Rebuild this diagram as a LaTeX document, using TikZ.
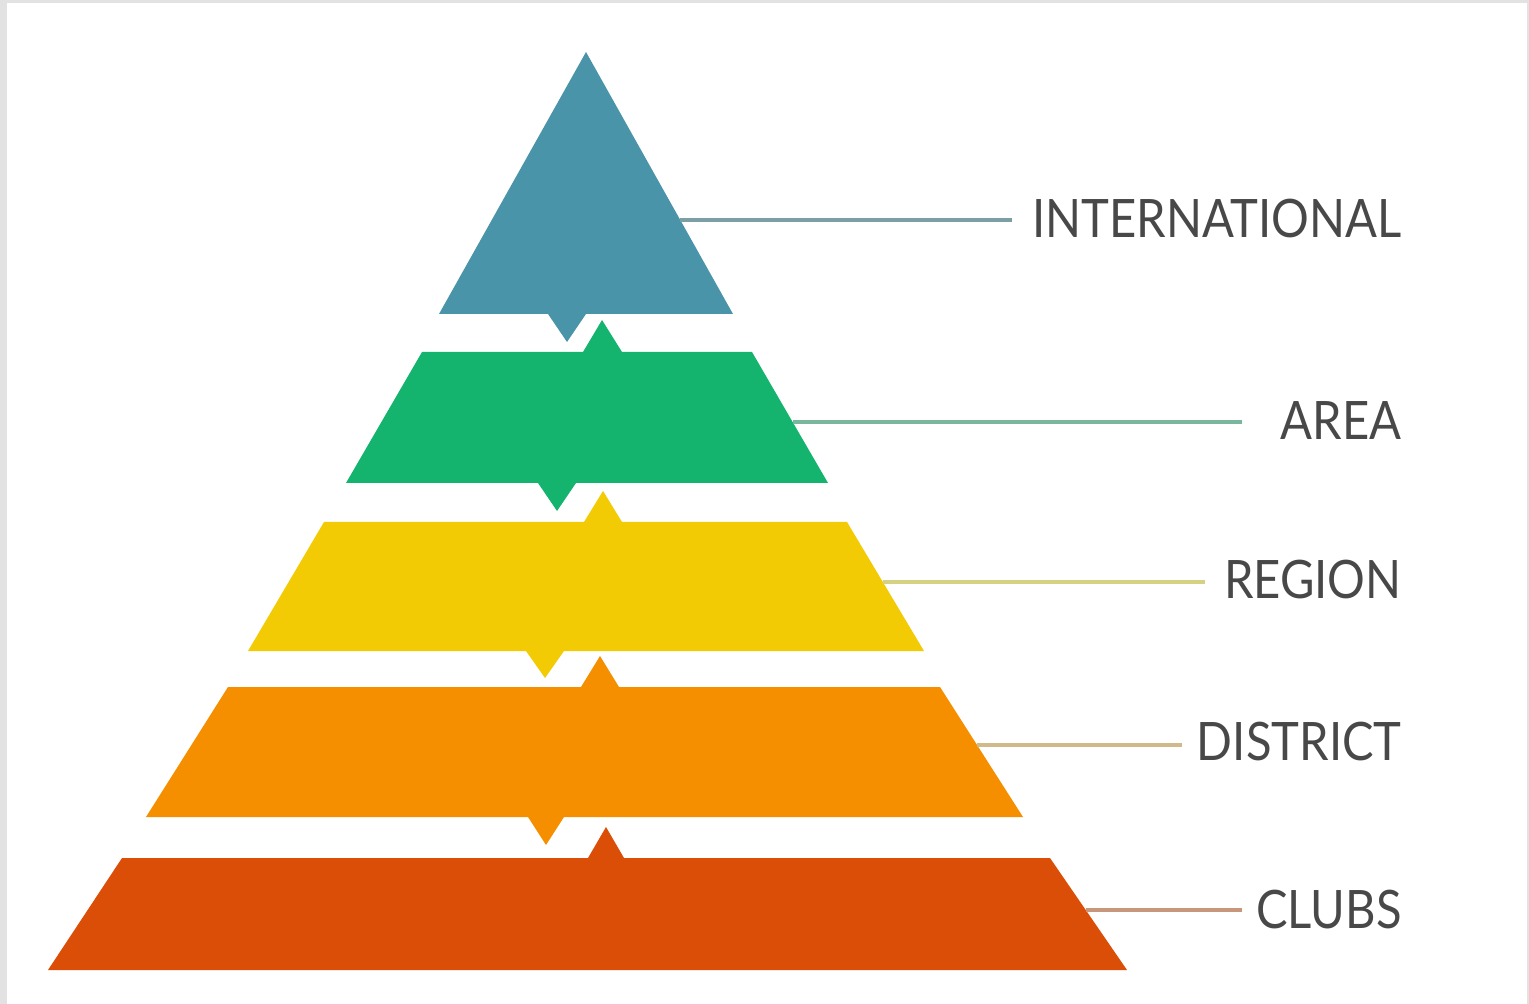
\documentclass[tikz,border=0pt]{standalone}
\usepackage{fontspec}
\setmainfont{Lato}
\newfontfamily\lblfont[FakeStretch=0.89]{Lato}
\definecolor{cBlue}{RGB}{74,148,170}
\definecolor{cGreen}{RGB}{20,180,110}
\definecolor{cYellow}{RGB}{242,203,5}
\definecolor{cOrange}{RGB}{245,143,0}
\definecolor{cRed}{RGB}{219,78,8}
\definecolor{lBlue}{RGB}{122,160,165}
\definecolor{lGreen}{RGB}{120,182,158}
\definecolor{lYellow}{RGB}{214,208,130}
\definecolor{lOrange}{RGB}{208,186,140}
\definecolor{lRed}{RGB}{200,150,122}
\definecolor{txt}{RGB}{72,72,72}
\definecolor{frame}{RGB}{226,226,226}
\tikzset{
  layer/.style={draw=none},
  link/.style={line width=2pt},
  lbl/.style={anchor=base east, inner sep=0pt, text=txt, font=\lblfont\fontsize{26.5}{30}\selectfont}
}
\begin{document}
\begin{tikzpicture}[x=0.5pt,y=-0.5pt]
\useasboundingbox (0,0) rectangle (1529,1004);
\fill[frame] (0,0) rectangle (1529,1004);
\fill[white] (7,3) rectangle (1527,1004);
% layers
\fill[cBlue,layer] (439,314) -- (548,314) -- (567,342) -- (586,314) -- (733,314) -- (586,52) -- cycle;
\fill[cGreen,layer] (346,483) -- (538,483) -- (557,511) -- (576,483) -- (828,483) -- (752,352) -- (622,352) -- (602,320) -- (583,352) -- (422,352) -- cycle;
\fill[cYellow,layer] (248,651) -- (526,651) -- (545,678) -- (564,651) -- (924,651) -- (847,522) -- (622,522) -- (603,491) -- (584,522) -- (324,522) -- cycle;
\fill[cOrange,layer] (146,817) -- (528,817) -- (546,845) -- (564,817) -- (1023,817) -- (940,687) -- (619,687) -- (600,656) -- (581,687) -- (228,687) -- cycle;
\fill[cRed,layer] (48,970) -- (1127,970) -- (1050,858) -- (624,858) -- (606,827) -- (588,858) -- (122,858) -- cycle;
% labels
\node[lbl] (tInt) at (1402,238) {INTERNATIONAL};
\node[lbl] (tArea) at (1402,440) {AREA};
\node[lbl] (tReg) at (1402,598) {REGION};
\node[lbl] (tDis) at (1402,760) {DISTRICT};
\node[lbl] (tClu) at (1402,928) {CLUBS};
% connector ends
\coordinate (aInt) at (680,220);  \coordinate (bInt) at (1012,220);
\coordinate (aArea) at (793,422); \coordinate (bArea) at (1242,422);
\coordinate (aReg) at (883,582);  \coordinate (bReg) at (1205,582);
\coordinate (aDis) at (977,745);  \coordinate (bDis) at (1182,745);
\coordinate (aClu) at (1086,910); \coordinate (bClu) at (1242,910);
\draw[link,lBlue] (aInt) -- (bInt);
\draw[link,lGreen] (aArea) -- (bArea);
\draw[link,lYellow] (aReg) -- (bReg);
\draw[link,lOrange] (aDis) -- (bDis);
\draw[link,lRed] (aClu) -- (bClu);
\end{tikzpicture}
\end{document}
